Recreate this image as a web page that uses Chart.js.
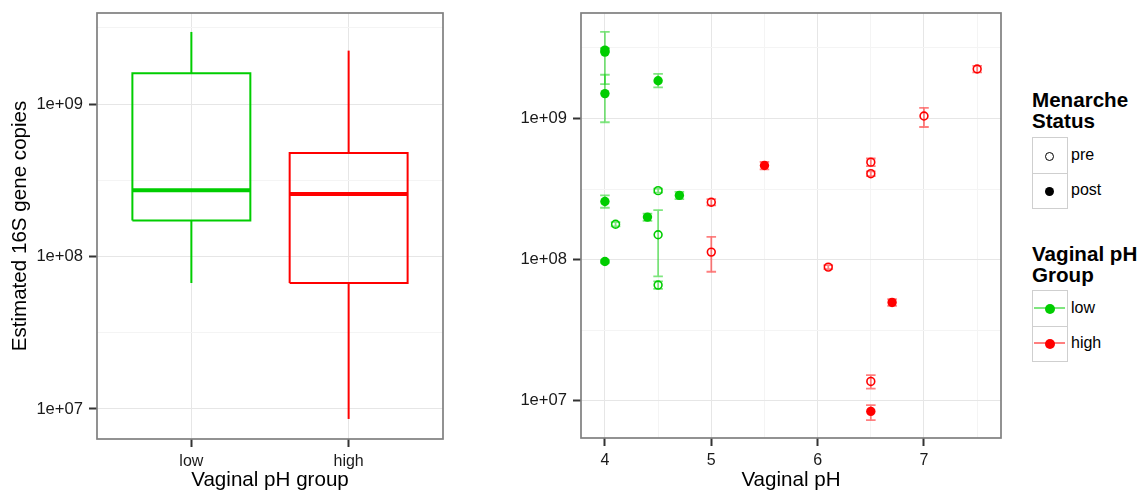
<!DOCTYPE html>
<html>
<head>
<meta charset="utf-8">
<script src="https://cdn.jsdelivr.net/npm/chart.js@4/dist/chart.umd.min.js"></script>
<style>
  html, body { margin: 0; padding: 0; background: #fff; }
  #wrap { position: relative; width: 1141px; height: 495px; overflow: hidden;
          font-family: "Liberation Sans", Arial, Helvetica, sans-serif; color: #000; }
  #c1 { position: absolute; left: 0; top: 0; }
  #c2 { position: absolute; left: 460px; top: 0; }
  .ltitle { position: absolute; left: 1032px; font-weight: bold; font-size: 20.6px; line-height: 21px; white-space: nowrap; }
  .lbox { position: absolute; left: 1032px; width: 36px; height: 72px; box-sizing: border-box;
          border: 1.5px solid #cfcfcf; }
  .ldiv { position: absolute; left: 0; right: 0; top: 34.5px; height: 0; border-top: 1.5px solid #cfcfcf; }
  .llab { position: absolute; left: 1071px; height: 36px; line-height: 36px; font-size: 16px; }
  .sym { position: absolute; box-sizing: border-box; border-radius: 50%; }
  .kline { position: absolute; height: 2px; }
</style>
</head>
<body>
<div id="wrap">
  <canvas id="c1" width="460" height="495"></canvas>
  <canvas id="c2" width="560" height="495"></canvas>

  <div class="ltitle" style="top:88.5px">Menarche<br>Status</div>
  <div class="lbox" style="top:137px"><div class="ldiv"></div></div>
  <div class="sym" style="left:1045px;top:151.5px;width:9px;height:9px;border:1.6px solid #000;"></div>
  <div class="sym" style="left:1045px;top:186.5px;width:9px;height:9px;background:#000;"></div>
  <div class="llab" style="top:137px">pre</div>
  <div class="llab" style="top:172px">post</div>

  <div class="ltitle" style="top:242.5px">Vaginal pH<br>Group</div>
  <div class="lbox" style="top:290px"><div class="ldiv"></div></div>
  <div class="kline" style="left:1034px;top:307px;width:31px;background:rgba(0,205,0,0.5);"></div>
  <div class="sym" style="left:1044.5px;top:303.5px;width:10px;height:10px;background:#00CD00;"></div>
  <div class="kline" style="left:1034px;top:342px;width:31px;background:rgba(255,0,0,0.5);"></div>
  <div class="sym" style="left:1044.5px;top:338.5px;width:10px;height:10px;background:#FF0000;"></div>
  <div class="llab" style="top:290px">low</div>
  <div class="llab" style="top:325px">high</div>
</div>

<script>
// ---------------- data ----------------
// Left panel: box plot by vaginal pH group
const groups       = ['low', 'high'];
const whiskerLow   = [6.7e7, 8.6e6];
const boxQ1        = [1.72e8, 6.7e7];
const boxMedian    = [2.72e8, 2.57e8];
const boxQ3        = [1.59e9, 4.78e8];
const whiskerHigh  = [2.97e9, 2.24e9];

// y tick labels (shared)
const yTickValues  = [1e7, 1e8, 1e9];
const yTickLabels  = ['1e+07', '1e+08', '1e+09'];

// Right panel: individual samples
const samplePH       = [4.0, 4.0, 4.0, 4.5, 4.0, 4.1, 4.4, 4.5, 4.7, 4.5, 4.0, 4.5,
                        5.0, 5.0, 5.5, 6.5, 6.5, 7.5, 7.0, 6.1, 6.7, 6.5, 6.5];
const sampleCopies   = [2.95e9, 3.05e9, 1.5e9, 1.85e9, 2.58e8, 1.78e8, 2.0e8, 3.08e8, 2.85e8, 1.5e8, 9.7e7, 6.6e7,
                        2.55e8, 1.13e8, 4.64e8, 4.9e8, 4.06e8, 2.24e9, 1.04e9, 8.85e7, 4.97e7, 1.37e7, 8.4e6];
const sampleLow      = [1.75e9, 2.95e9, 0.94e9, 1.66e9, 2.33e8, 1.72e8, 1.88e8, 2.98e8, 2.68e8, 7.6e7, 9.5e7, 6.2e7,
                        2.42e8, 8.2e7, 4.36e8, 4.6e8, 3.9e8, 2.12e9, 0.87e9, 8.55e7, 4.7e7, 1.22e7, 7.3e6];
const sampleHigh     = [4.1e9, 3.15e9, 2.04e9, 2.07e9, 2.85e8, 1.84e8, 2.12e8, 3.18e8, 3.02e8, 2.24e8, 9.9e7, 7.0e7,
                        2.68e8, 1.45e8, 4.92e8, 5.2e8, 4.22e8, 2.36e9, 1.19e9, 9.15e7, 5.24e7, 1.52e7, 9.3e6];
const sampleMenarche = ['post','post','post','post','post','pre','post','pre','post','pre','post','pre',
                        'pre','pre','post','pre','pre','pre','pre','pre','post','pre','post'];
const sampleGroup    = ['low','low','low','low','low','low','low','low','low','low','low','low',
                        'high','high','high','high','high','high','high','high','high','high','high'];

const phTickValues = [4, 5, 6, 7];
const phTickLabels = ['4', '5', '6', '7'];

// ---------------- styles ----------------
const COLORS   = { low: '#00CD00', high: '#FF0000' };
const ERRCOL   = { low: 'rgba(0,205,0,0.5)', high: 'rgba(255,0,0,0.5)' };
const GRID_MAJ = '#e6e6e6';
const GRID_MIN = '#f4f4f4';
const TEXT     = '#1a1a1a';
const FONT     = '"Liberation Sans", Arial, Helvetica, sans-serif';
Chart.defaults.font.family = FONT;
Chart.defaults.color = TEXT;

const leftYRange  = [Math.pow(10, 6.803), Math.pow(10, 9.597)];
const rightYRange = [Math.pow(10, 6.736), Math.pow(10, 9.747)];
const rightXRange = [3.775, 7.724];
const boxHalf = 0.375;
const capHalf = 0.045;

// helpers for gridline ticks (major labelled, minor unlabelled)
function logTicks(range) {
  const seen = new Set();
  const out = [];
  yTickValues.forEach(v => {
    [v / Math.sqrt(10), v, v * Math.sqrt(10)].forEach(t => {
      const k = Math.round(Math.log10(t) * 2);
      if (!seen.has(k) && t >= range[0] && t <= range[1]) { seen.add(k); out.push(t); }
    });
  });
  return out.sort((a, b) => a - b).map(value => ({ value }));
}
function isMajorLog(v) { return yTickValues.some(t => Math.abs(Math.log10(t) - Math.log10(v)) < 1e-6); }
function logLabel(v) {
  const i = yTickValues.findIndex(t => Math.abs(Math.log10(t) - Math.log10(v)) < 1e-6);
  return i >= 0 ? yTickLabels[i] : '';
}

const panelBorder = {
  id: 'panelBorder',
  afterDatasetsDraw(chart) {
    const { ctx, chartArea: a } = chart;
    ctx.save();
    ctx.strokeStyle = '#7f7f7f';
    ctx.lineWidth = 1.7;
    ctx.strokeRect(a.left, a.top, a.right - a.left, a.bottom - a.top);
    ctx.restore();
  }
};

function zeroPad(s) { s.paddingLeft = 0; s.paddingRight = 0; s.paddingTop = 0; s.paddingBottom = 0; }

// ---------------- left chart ----------------
const leftDatasets = [];
groups.forEach((g, i) => {
  const c = i + 1;
  const col = COLORS[g];
  const base = { showLine: true, pointRadius: 0, borderColor: col, fill: false, tension: 0,
                 borderJoinStyle: 'miter', borderCapStyle: 'butt' };
  leftDatasets.push(Object.assign({}, base, { borderWidth: 2, data: [
    { x: c - boxHalf, y: boxQ1[i] }, { x: c + boxHalf, y: boxQ1[i] },
    { x: c + boxHalf, y: boxQ3[i] }, { x: c - boxHalf, y: boxQ3[i] },
    { x: c - boxHalf, y: boxQ1[i] } ] }));
  leftDatasets.push(Object.assign({}, base, { borderWidth: 2, data: [
    { x: c, y: boxQ3[i] }, { x: c, y: whiskerHigh[i] } ] }));
  leftDatasets.push(Object.assign({}, base, { borderWidth: 2, data: [
    { x: c, y: whiskerLow[i] }, { x: c, y: boxQ1[i] } ] }));
  leftDatasets.push(Object.assign({}, base, { borderWidth: 4, data: [
    { x: c - boxHalf, y: boxMedian[i] }, { x: c + boxHalf, y: boxMedian[i] } ] }));
});

new Chart(document.getElementById('c1'), {
  type: 'scatter',
  data: { datasets: leftDatasets },
  options: {
    responsive: false, animation: false, devicePixelRatio: 1,
    layout: { padding: { top: 13, right: 17, left: 0, bottom: 0 } },
    plugins: { legend: { display: false }, tooltip: { enabled: false } },
    scales: {
      x: {
        type: 'linear', min: 0.4, max: 2.6,
        afterBuildTicks: s => { s.ticks = groups.map((g, i) => ({ value: i + 1 })); },
        afterFit: s => { s.height = 56; zeroPad(s); },
        ticks: { callback: v => groups[Math.round(v) - 1] || '', font: { size: 16 }, color: TEXT,
                 padding: 5, autoSkip: false, maxRotation: 0 },
        grid: { color: GRID_MAJ, lineWidth: 1, tickLength: 8, tickColor: '#333', tickWidth: 2 },
        border: { display: false },
        title: { display: true, text: 'Vaginal pH group', font: { size: 20.6 }, color: '#000',
                 padding: { top: 0, bottom: 2 } }
      },
      y: {
        type: 'logarithmic', min: leftYRange[0], max: leftYRange[1],
        afterBuildTicks: s => { s.ticks = logTicks(leftYRange); },
        afterFit: s => { s.width = 97; zeroPad(s); },
        ticks: { callback: v => logLabel(v), font: { size: 16.6 }, color: TEXT, padding: 6, autoSkip: false },
        grid: {
          color: c => (c.tick && isMajorLog(c.tick.value)) ? GRID_MAJ : GRID_MIN,
          lineWidth: 1, tickLength: 8,
          tickColor: c => (c.tick && isMajorLog(c.tick.value)) ? '#333' : 'rgba(0,0,0,0)',
          tickWidth: 2
        },
        border: { display: false },
        title: { display: true, text: 'Estimated 16S gene copies', font: { size: 20.6 }, color: '#000',
                 padding: { top: 8, bottom: 0 } }
      }
    }
  },
  plugins: [panelBorder]
});

// ---------------- right chart ----------------
function linTicks(range) {
  const out = [];
  phTickValues.forEach((v, i) => {
    out.push(v);
    const next = i < phTickValues.length - 1 ? phTickValues[i + 1] : v + (v - phTickValues[i - 1]);
    out.push((v + next) / 2);
  });
  const prev = phTickValues[0] - (phTickValues[1] - phTickValues[0]) / 2;
  out.push(prev);
  return out.filter(t => t >= range[0] && t <= range[1]).sort((a, b) => a - b).map(value => ({ value }));
}
function isMajorLin(v) { return phTickValues.some(t => Math.abs(t - v) < 1e-9); }
function linLabel(v) {
  const i = phTickValues.findIndex(t => Math.abs(t - v) < 1e-9);
  return i >= 0 ? phTickLabels[i] : '';
}

const errorBars = {
  id: 'errorBars',
  beforeDatasetsDraw(chart) {
    const xs = chart.scales.x, ys = chart.scales.y, ctx = chart.ctx;
    ctx.save();
    ctx.lineWidth = 1.8;
    ctx.lineCap = 'butt';
    samplePH.forEach((ph, i) => {
      const x  = xs.getPixelForValue(ph);
      const xl = xs.getPixelForValue(ph - capHalf);
      const xr = xs.getPixelForValue(ph + capHalf);
      const yl = ys.getPixelForValue(sampleLow[i]);
      const yh = ys.getPixelForValue(sampleHigh[i]);
      ctx.strokeStyle = ERRCOL[sampleGroup[i]];
      ctx.beginPath();
      ctx.moveTo(x, yl); ctx.lineTo(x, yh);
      ctx.moveTo(xl, yl); ctx.lineTo(xr, yl);
      ctx.moveTo(xl, yh); ctx.lineTo(xr, yh);
      ctx.stroke();
    });
    ctx.restore();
  }
};

const combos = [['low', 'pre'], ['low', 'post'], ['high', 'pre'], ['high', 'post']];
const rightDatasets = combos.map(([g, m]) => {
  const col = COLORS[g];
  const pts = [];
  samplePH.forEach((ph, i) => {
    if (sampleGroup[i] === g && sampleMenarche[i] === m) pts.push({ x: ph, y: sampleCopies[i] });
  });
  return {
    data: pts, showLine: false,
    pointStyle: 'circle',
    pointRadius: m === 'pre' ? 3.9 : 4.7,
    pointBorderWidth: m === 'pre' ? 1.6 : 0,
    pointBackgroundColor: m === 'pre' ? 'rgba(0,0,0,0)' : col,
    pointBorderColor: col
  };
});

new Chart(document.getElementById('c2'), {
  type: 'scatter',
  data: { datasets: rightDatasets },
  options: {
    responsive: false, animation: false, devicePixelRatio: 1,
    layout: { padding: { top: 13, right: 19, left: 0, bottom: 0 } },
    plugins: { legend: { display: false }, tooltip: { enabled: false } },
    scales: {
      x: {
        type: 'linear', min: rightXRange[0], max: rightXRange[1],
        afterBuildTicks: s => { s.ticks = linTicks(rightXRange); },
        afterFit: s => { s.height = 57; zeroPad(s); },
        ticks: { callback: v => linLabel(v), font: { size: 16 }, color: TEXT, padding: 5,
                 autoSkip: false, maxRotation: 0 },
        grid: {
          color: c => (c.tick && isMajorLin(c.tick.value)) ? GRID_MAJ : GRID_MIN,
          lineWidth: 1, tickLength: 8,
          tickColor: c => (c.tick && isMajorLin(c.tick.value)) ? '#333' : 'rgba(0,0,0,0)',
          tickWidth: 2
        },
        border: { display: false },
        title: { display: true, text: 'Vaginal pH', font: { size: 20.6 }, color: '#000',
                 padding: { top: 0, bottom: 2 } }
      },
      y: {
        type: 'logarithmic', min: rightYRange[0], max: rightYRange[1],
        afterBuildTicks: s => { s.ticks = logTicks(rightYRange); },
        afterFit: s => { s.width = 121; zeroPad(s); },
        ticks: { callback: v => logLabel(v), font: { size: 16.6 }, color: TEXT, padding: 6, autoSkip: false },
        grid: {
          color: c => (c.tick && isMajorLog(c.tick.value)) ? GRID_MAJ : GRID_MIN,
          lineWidth: 1, tickLength: 8,
          tickColor: c => (c.tick && isMajorLog(c.tick.value)) ? '#333' : 'rgba(0,0,0,0)',
          tickWidth: 2
        },
        border: { display: false }
      }
    }
  },
  plugins: [errorBars, panelBorder]
});
</script>
</body>
</html>
